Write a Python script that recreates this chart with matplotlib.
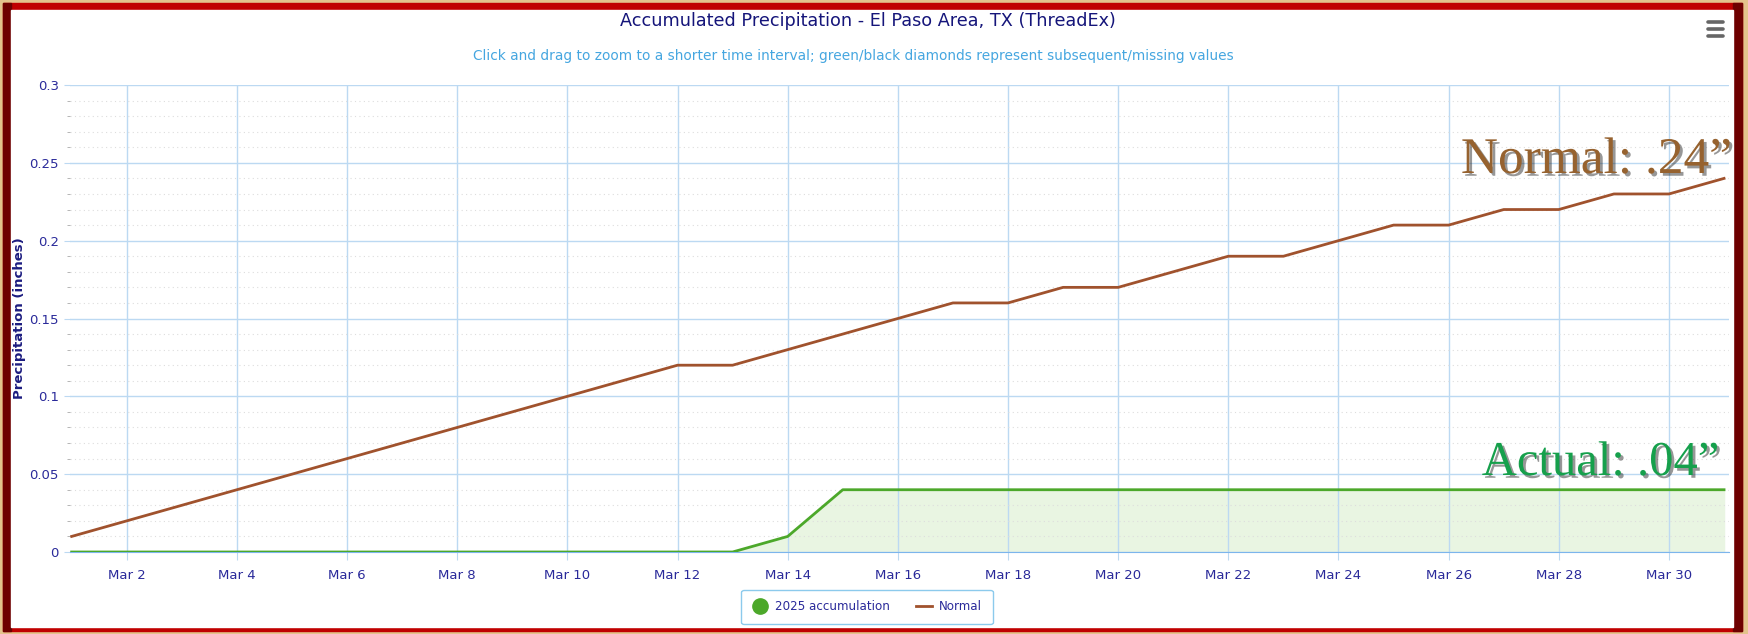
# Accumulated precipitation chart, El Paso, March 2025
import matplotlib
matplotlib.use("Agg")
import matplotlib.pyplot as plt
import matplotlib.patheffects as pe
from matplotlib.patches import Rectangle
from matplotlib.lines import Line2D
import numpy as np

# data: day of March and accumulated inches
days = list(range(1, 32))
normal = [0.01, 0.02, 0.03, 0.04, 0.05, 0.06, 0.07, 0.08, 0.09, 0.10,
          0.11, 0.12, 0.12, 0.13, 0.14, 0.15, 0.16, 0.16, 0.17, 0.17,
          0.18, 0.19, 0.19, 0.20, 0.21, 0.21, 0.22, 0.22, 0.23, 0.23, 0.24]
actual = [0, 0, 0, 0, 0, 0, 0, 0, 0, 0,
          0, 0, 0, 0.01, 0.04, 0.04, 0.04, 0.04, 0.04, 0.04,
          0.04, 0.04, 0.04, 0.04, 0.04, 0.04, 0.04, 0.04, 0.04, 0.04, 0.04]
tick_days = list(range(2, 31, 2))
tick_labels = [f"Mar {d}" for d in tick_days]
y_ticks = [0, 0.05, 0.1, 0.15, 0.2, 0.25, 0.3]
y_labels = ["0", "0.05", "0.1", "0.15", "0.2", "0.25", "0.3"]

W, H = 1748, 634
fig = plt.figure(figsize=(W / 100, H / 100), dpi=100)
fig.patch.set_facecolor("#e3c38c")

# frame: red border, dark sides, white panel
fig.add_artist(Rectangle((3 / W, 3 / H), (1742 - 3) / W, (631 - 3) / H,
                         transform=fig.transFigure, color="#c00000", zorder=0))
fig.add_artist(Rectangle((3 / W, 3 / H), 8 / W, (631 - 3) / H,
                         transform=fig.transFigure, color="#6e0000", zorder=0))
fig.add_artist(Rectangle((1733 / W, 3 / H), 9 / W, (631 - 3) / H,
                         transform=fig.transFigure, color="#6e0000", zorder=0))
fig.add_artist(Rectangle((11 / W, 7 / H), (1733 - 11) / W, (624 - 7) / H,
                         transform=fig.transFigure, color="white", zorder=0))

# hamburger menu icon
for yy in (22, 29, 36):
    fig.add_artist(Line2D([1708 / W, 1723 / W], [1 - yy / H, 1 - yy / H],
                          transform=fig.transFigure, color="#666666", lw=2.6,
                          solid_capstyle="round"))

ax = fig.add_axes([70 / W, 1 - 552 / H, (1729 - 70) / W, (552 - 85) / H])
ax.set_facecolor("none")

green = "#4ca82a"
brown = "#a0522d"
grid_blue = "#bcd9f2"
label_blue = "#2a2a9a"

ax.fill_between(days, actual, 0, color="#e9f5e2", zorder=1)
ax.plot(days, actual, color=green, lw=2, zorder=3)
ax.plot(days, normal, color=brown, lw=2, zorder=3)

ax.set_xlim(0.97, 31.09)
ax.set_ylim(0, 0.3)
ax.set_xticks(tick_days)
ax.set_xticklabels(tick_labels)
ax.set_yticks(y_ticks)
ax.set_yticklabels(y_labels)
ax.set_yticks(np.arange(0, 0.3001, 0.01), minor=True)

ax.grid(True, which="major", color=grid_blue, lw=1, zorder=0)
ax.grid(True, which="minor", axis="y", color="#dddddd", lw=0.8,
        linestyle=(0, (1, 3)), zorder=0)
for s in ("top", "right", "left"):
    ax.spines[s].set_visible(False)
ax.spines["bottom"].set_color("#7cb5ec")
ax.spines["bottom"].set_zorder(2)

ax.tick_params(axis="x", colors=grid_blue, labelcolor=label_blue,
               labelsize=9.5, length=6, pad=6)
ax.tick_params(axis="y", which="major", colors=grid_blue, labelcolor=label_blue,
               labelsize=9.5, length=4, pad=4)
ax.tick_params(axis="y", which="minor", colors="#aaaaaa", length=2)

fig.text(20 / W, 1 - 318 / H, "Precipitation (inches)", rotation=90,
         ha="center", va="center", fontsize=9.5, fontweight="bold",
         color="#1c1c80")

fig.text(868 / W, 1 - 21 / H,
         "Accumulated Precipitation - El Paso Area, TX (ThreadEx)",
         ha="center", va="center", fontsize=12.7, color="#15157a")
fig.text(853 / W, 1 - 56 / H,
         "Click and drag to zoom to a shorter time interval; "
         "green/black diamonds represent subsequent/missing values",
         ha="center", va="center", fontsize=9.9, color="#45a6e0")

shadow = [pe.SimplePatchShadow(offset=(2, -2), shadow_rgbFace="#1a1a1a",
                               alpha=0.45), pe.Normal()]
fig.text(1732 / W, 1 - 173 / H, "Normal: .24\u201d", ha="right",
         va="baseline", fontsize=37, family="Liberation Serif",
         color="#96622f", path_effects=shadow, zorder=5)
fig.text(1720 / W, 1 - 475 / H, "Actual: .04\u201d", ha="right",
         va="baseline", fontsize=35, family="Liberation Serif",
         color="#16a04c", path_effects=shadow, zorder=5)

handles = [Line2D([], [], marker="o", color=green, linestyle="none",
                  markersize=11),
           Line2D([], [], color=brown, lw=2)]
leg = fig.legend(handles, ["2025 accumulation", "Normal"], ncol=2,
                 loc="center", bbox_to_anchor=(867 / W, 1 - 607 / H),
                 fontsize=8.6, frameon=True, fancybox=True,
                 edgecolor="#6fbde8", handlelength=1.3, handletextpad=0.6,
                 columnspacing=2.2, borderpad=0.9)
for t in leg.get_texts():
    t.set_color(label_blue)

fig.savefig("out.png", dpi=100, facecolor=fig.get_facecolor())
